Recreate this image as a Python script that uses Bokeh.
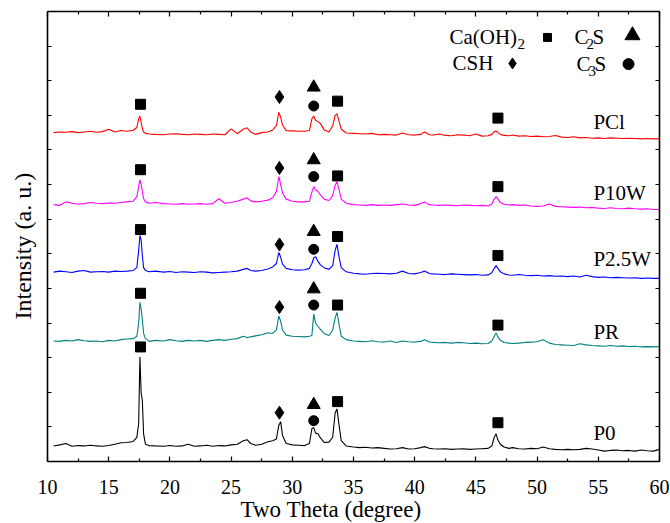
from bokeh.plotting import figure
from bokeh.models import (Range1d, LinearAxis, FixedTicker, Label, Title,
                          CustomLabelingPolicy)
from bokeh.embed import file_html
from bokeh.resources import INLINE

# ---------------- data ----------------
two_theta = [
    10.5, 11.0, 11.5, 12.0, 12.5, 13.0, 13.5, 14.0, 14.5, 15.0,
    15.5, 16.0, 16.5, 17.0, 17.3, 17.45, 17.55, 17.65, 17.75, 17.85,
    18.0, 18.3, 18.8, 19.5, 20.0, 20.5, 21.0, 21.5, 22.0, 22.5,
    23.0, 23.5, 24.0, 24.5, 25.0, 25.5, 26.0, 26.3, 26.6, 27.0,
    27.5, 28.0, 28.4, 28.7, 28.9, 29.05, 29.2, 29.5, 30.0, 30.5,
    31.0, 31.4, 31.6, 31.75, 31.9, 32.1, 32.3, 32.6, 33.0, 33.3,
    33.5, 33.65, 33.8, 34.0, 34.4, 35.0, 35.5, 36.0, 36.5, 37.0,
    37.5, 38.0, 38.5, 39.0, 39.5, 40.0, 40.5, 40.8, 41.2, 41.5,
    42.0, 42.5, 43.0, 43.5, 44.0, 44.5, 45.0, 45.5, 46.0, 46.3,
    46.5, 46.65, 46.8, 47.0, 47.3, 47.7, 48.0, 48.5, 49.0, 49.5,
    50.0, 50.5, 51.0, 51.5, 52.0, 52.5, 53.0, 53.5, 54.0, 54.5,
    55.0, 55.5, 56.0, 56.5, 57.0, 57.5, 58.0, 58.5, 59.0, 59.5, 60.0,
]

int_p0 = [
    45, 48, 52, 44, 46, 45, 47, 45, 44, 46,
    50, 54, 55, 58, 70, 110, 302, 200, 175, 80,
    50, 46, 45, 44, 46, 44, 45, 50, 44, 45,
    47, 44, 46, 45, 48, 50, 60, 63, 52, 47,
    50, 57, 60, 65, 105, 115, 75, 52, 48, 47,
    46, 52, 95, 98, 82, 80, 68, 55, 56, 70,
    140, 152, 110, 60, 45, 42, 40, 41, 39, 40,
    38, 36, 37, 40, 36, 37, 40, 43, 38, 37,
    36, 37, 35, 36, 37, 35, 36, 37, 38, 45,
    70, 80, 62, 50, 42, 38, 40, 37, 36, 38,
    37, 42, 37, 35, 34, 35, 34, 35, 38, 36,
    33, 30, 32, 33, 31, 32, 30, 33, 31, 30, 35,
]

int_pr = [
    48, 47, 50, 48, 52, 49, 47, 48, 46, 50,
    48, 52, 54, 55, 62, 100, 160, 140, 110, 70,
    55, 47, 50, 48, 52, 49, 47, 50, 48, 50,
    47, 50, 52, 50, 53, 55, 62, 58, 60, 63,
    66, 72, 70, 80, 120, 105, 80, 65, 62, 61,
    60, 62, 64, 126, 100, 90, 82, 70, 64, 80,
    115, 131, 100, 62, 52, 48, 47, 46, 49, 46,
    45, 48, 44, 48, 46, 45, 47, 52, 45, 44,
    43, 44, 42, 44, 43, 41, 42, 40, 41, 48,
    62, 71, 60, 50, 44, 42, 41, 42, 44, 45,
    46, 52, 42, 38, 37, 36, 35, 40, 37, 35,
    34, 33, 35, 33, 34, 32, 33, 31, 32, 31, 32,
]

int_p25w = [
    47, 50, 48, 46, 50, 52, 47, 48, 49, 47,
    50, 49, 50, 52, 60, 110, 153, 140, 95, 60,
    52, 48, 50, 47, 49, 46, 48, 47, 46, 48,
    47, 45, 46, 47, 48, 50, 55, 58, 52, 50,
    52, 56, 62, 72, 104, 90, 70, 58, 54, 53,
    54, 58, 72, 88, 92, 78, 68, 60, 55, 66,
    110, 127, 95, 60, 48, 44, 42, 41, 43, 44,
    43, 42, 44, 50, 43, 42, 46, 50, 43, 42,
    41, 40, 42, 41, 40, 39, 40, 38, 39, 45,
    58, 66, 58, 48, 42, 39, 38, 40, 38, 37,
    38, 36, 37, 35, 36, 34, 36, 33, 38, 34,
    32, 33, 31, 32, 31, 30, 31, 29, 30, 29, 29,
]

int_p10w = [
    42, 40, 50, 46, 44, 45, 48, 46, 45, 47,
    46, 48, 50, 52, 65, 95, 114, 100, 80, 60,
    50, 46, 48, 45, 44, 43, 45, 43, 44, 45,
    43, 45, 59, 46, 48, 52, 58, 62, 53, 50,
    52, 55, 62, 80, 123, 100, 75, 58, 52, 50,
    50, 52, 78, 94, 85, 80, 70, 58, 54, 68,
    98, 108, 88, 58, 46, 42, 41, 40, 42, 40,
    41, 40, 42, 44, 41, 40, 45, 50, 42, 41,
    40, 41, 40, 39, 41, 40, 39, 40, 38, 44,
    58, 65, 58, 48, 43, 41, 42, 40, 41, 38,
    37, 38, 44, 37, 36, 35, 34, 35, 33, 34,
    32, 31, 33, 31, 30, 32, 30, 29, 30, 28, 28,
]

int_pcl = [
    50, 52, 51, 53, 50, 52, 54, 51, 53, 60,
    52, 56, 54, 57, 65, 90, 98, 80, 62, 52,
    48, 46, 45, 44, 46, 47, 45, 44, 46, 45,
    44, 46, 45, 44, 61, 47, 60, 64, 52, 45,
    50, 52, 58, 70, 109, 95, 72, 56, 55, 54,
    54, 56, 90, 98, 85, 82, 76, 58, 52, 70,
    100, 104, 85, 60, 49, 48, 47, 46, 48, 44,
    45, 44, 43, 49, 44, 43, 45, 52, 44, 43,
    46, 42, 41, 44, 43, 41, 46, 40, 41, 45,
    53, 55, 50, 45, 42, 41, 43, 40, 41, 39,
    40, 38, 39, 42, 37, 36, 38, 35, 36, 34,
    35, 33, 35, 34, 33, 34, 33, 32, 33, 32, 32,
]

series_names = ["P0", "PR", "P2.5W", "P10W", "PCl"]
series_colors = ["#000000", "#008080", "#0000FF", "#FF00FF", "#FF0000"]
series_offsets = [0, 300, 500, 700, 900]
series_label_x = 54.6
series_label_y = [81, 374, 584, 777, 981]

# phase markers (order: P0, PR, P2.5W, P10W, PCl)
caoh2_x = [17.6, 33.7, 46.8]
caoh2_y = [[331, 173, 112], [486, 452, 394], [670, 650, 595],
           [843, 825, 794], [1032, 1041, 992]]
csh_x = 28.95
csh_y = [141, 446, 627, 848, 1053]
c2s_x = 31.75
c2s_y = [164, 498, 664, 871, 1081]
c3s_x = 31.75
c3s_y = [118, 452, 613, 823, 1027]

x_ticks = [10, 15, 20, 25, 30, 35, 40, 45, 50, 55, 60]
x_minor = [12.5, 17.5, 22.5, 27.5, 32.5, 37.5, 42.5, 47.5, 52.5, 57.5]
y_ticks = [0, 100, 200, 300, 400, 500, 600, 700, 800, 900, 1000, 1100, 1200, 1300]

FONT = "Liberation Serif"

# ---------------- figure ----------------
p = figure(width=670, height=523, min_border_left=47, min_border_right=11,
           min_border_top=11, min_border_bottom=60,
           x_range=Range1d(10, 60), y_range=Range1d(0, 1300),
           output_backend="svg", toolbar_location=None,
           x_axis_location=None, y_axis_location=None)
p.outline_line_color = None
p.xgrid.visible = False
p.ygrid.visible = False
p.background_fill_color = "white"
p.border_fill_color = "white"

NO_LABELS = """
if (typeof indices.clear === "function") { indices.clear(); return indices; }
for (const i of Array.from(indices)) { indices.unset(i); }
return indices;
"""

def hide_labels(ax, standoff):
    ax.major_label_policy = CustomLabelingPolicy(code=NO_LABELS)
    ax.major_label_text_font_size = "1px"
    ax.major_label_standoff = standoff

def style_x(ax, labels):
    ax.ticker = FixedTicker(ticks=x_ticks, minor_ticks=x_minor)
    ax.axis_line_width = 1.6
    ax.axis_line_color = "black"
    ax.major_tick_in = 5
    ax.major_tick_out = 0
    ax.minor_tick_in = 3
    ax.minor_tick_out = 0
    ax.major_tick_line_width = 1.2
    ax.minor_tick_line_width = 1.2
    if labels:
        ax.major_label_text_font = FONT
        ax.major_label_text_font_size = "20px"
        ax.major_label_text_color = "black"
        ax.major_label_standoff = 18
    else:
        hide_labels(ax, 0)

def style_y(ax, standoff):
    ax.ticker = FixedTicker(ticks=y_ticks, minor_ticks=[])
    ax.axis_line_width = 1.6
    ax.axis_line_color = "black"
    ax.major_tick_in = 4
    ax.major_tick_out = 0
    ax.minor_tick_in = 0
    ax.minor_tick_out = 0
    ax.major_tick_line_width = 1.2
    hide_labels(ax, standoff)

xb = LinearAxis(); style_x(xb, True); p.add_layout(xb, "below")
xt = LinearAxis(); style_x(xt, False); p.add_layout(xt, "above")
yl = LinearAxis(); style_y(yl, 7); p.add_layout(yl, "left")
yr = LinearAxis(); style_y(yr, 0); p.add_layout(yr, "right")

# axis titles
p.add_layout(Title(text="Two Theta (degree)", text_font=FONT, text_font_size="23px",
                   text_font_style="normal", text_color="black", align="left",
                   offset=193, vertical_align="top", standoff=0), "below")
p.add_layout(Title(text="Intensity (a. u.)", text_font=FONT, text_font_size="24px",
                   text_font_style="normal", text_color="black", align="left",
                   offset=142, vertical_align="bottom", standoff=0), "left")

# traces
all_int = [int_p0, int_pr, int_p25w, int_p10w, int_pcl]
for vals, col, off in zip(all_int, series_colors, series_offsets):
    p.line(two_theta, [v + off for v in vals], line_color=col, line_width=1.1)

# phase markers
for i in range(5):
    p.scatter(caoh2_x, caoh2_y[i], marker="square", size=10, color="black")
p.scatter([csh_x] * 5, csh_y, marker="diamond", size=13, color="black")
p.scatter([c2s_x] * 5, c2s_y, marker="triangle", size=13, color="black")
p.scatter([c3s_x] * 5, c3s_y, marker="circle", size=10, color="black")

# series name labels
for name, yy in zip(series_names, series_label_y):
    p.add_layout(Label(x=series_label_x, y=yy, text=name, text_font=FONT,
                       text_font_size="21px", text_align="left",
                       text_baseline="middle", text_color="black"))

# phase key
key_text = [
    ("Ca(OH)", 42.84, 1225, "21px"), ("2", 48.40, 1206, "15px"),
    ("C", 53.06, 1225, "21px"), ("2", 54.04, 1206, "15px"), ("S", 54.53, 1225, "21px"),
    ("CSH", 43.09, 1150, "21px"),
    ("C", 53.22, 1148, "21px"), ("3", 54.20, 1129, "15px"), ("S", 54.69, 1148, "21px"),
]
for t, xx, yy, fs in key_text:
    p.add_layout(Label(x=xx, y=yy, text=t, text_font=FONT, text_font_size=fs,
                       text_align="left", text_baseline="middle", text_color="black"))
key_marker_x = [50.85, 57.79, 47.99, 57.47]
key_marker_y = [1225, 1231, 1150, 1148]
key_marker = ["square", "triangle", "diamond", "circle"]
key_size = [8, 15, 11, 11]
for mx, my, mk, ms in zip(key_marker_x, key_marker_y, key_marker, key_size):
    p.scatter([mx], [my], marker=mk, size=ms, color="black")

open("out.html", "w").write(file_html(p, INLINE))
